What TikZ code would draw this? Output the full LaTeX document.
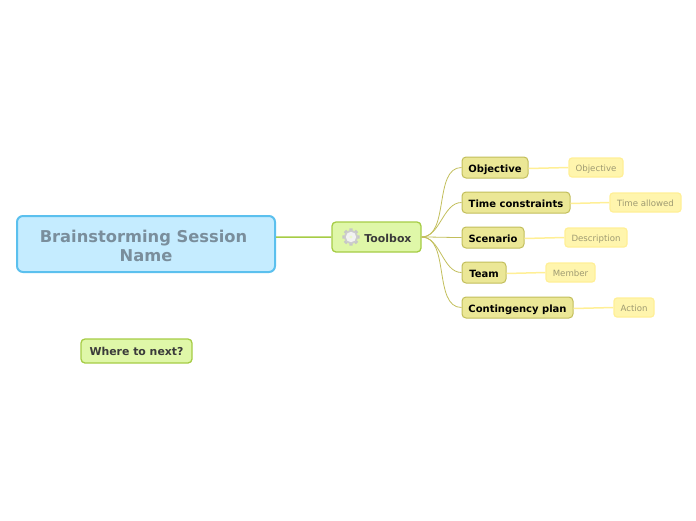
\documentclass[tikz,border=0pt]{standalone}
\usepackage{fontspec}
\setmainfont{DejaVu Sans}
\usepackage{xcolor}
\definecolor{rootfill}{HTML}{C5ECFF}
\definecolor{rootline}{HTML}{5BC0EE}
\definecolor{roottext}{HTML}{7A8E9C}
\definecolor{mainfill}{HTML}{DFF7A8}
\definecolor{mainline}{HTML}{A6CC45}
\definecolor{maintext}{HTML}{3A3A3A}
\definecolor{topicfill}{HTML}{EBE796}
\definecolor{topicline}{HTML}{C2BE5B}
\definecolor{subfill}{HTML}{FFF5AD}
\definecolor{subline}{HTML}{FFEF96}
\definecolor{subtext}{HTML}{9E9A72}
\tikzset{
    rootbox/.style={draw=rootline, fill=rootfill, line width=2pt, rounded corners=6pt, align=center,
        text=roottext, font=\fontsize{16.3}{19}\selectfont\bfseries, inner sep=0pt},
    mainbox/.style={draw=mainline, fill=mainfill, line width=1.3pt, rounded corners=4pt,
        text=maintext, font=\fontsize{10.9}{13}\selectfont\bfseries, inner sep=0pt, text depth=0pt},
    topicbox/.style={draw=topicline, fill=topicfill, line width=1pt, rounded corners=4pt,
        text=black, font=\fontsize{10}{12}\selectfont\bfseries, inner sep=0pt, minimum height=21pt,
        text height=9pt, text depth=0pt},
    subbox/.style={draw=subline, fill=subfill, line width=1.2pt, rounded corners=3pt,
        text=subtext, font=\fontsize{8.6}{10}\selectfont, inner sep=0pt, minimum height=19pt,
        text height=8pt, text depth=0pt},
    mainlink/.style={draw=mainline, line width=1.5pt},
    topiclink/.style={draw=topicline, line width=0.8pt, out=0, in=180, looseness=0.9},
    sublink/.style={draw=subline, line width=1.5pt}
}
\begin{document}
\begin{tikzpicture}[x=1pt, y=-1pt]
    \useasboundingbox (0,0) rectangle (696,520);

    % Central topic
    \node[rootbox, minimum width=258pt, minimum height=56pt] (root) at (146,244) {\rule{0pt}{17pt}Brainstorming Session\hspace*{5pt}\\Name};

    % Main topics
    \node[mainbox, minimum width=89pt, minimum height=30pt, text height=10pt] (toolbox) at (376.5,237) {\hspace*{23pt}Toolbox};
    \node[mainbox, minimum width=111pt, minimum height=24pt, text height=8pt] (next) at (136.5,351) {Where to next?};

    % Toolbox children
    \node[topicbox, minimum width=66pt] (objective) at (495,167.5) {Objective};
    \node[topicbox, minimum width=108pt] (time) at (516,202.5) {Time constraints};
    \node[topicbox, minimum width=62pt] (scenario) at (493,237.5) {Scenario};
    \node[topicbox, minimum width=44pt] (team) at (484,272.5) {Team};
    \node[topicbox, minimum width=111pt] (plan) at (517.5,307.5) {Contingency plan};

    % Details
    \node[subbox, minimum width=54pt] (objectivesub) at (596,167.5) {Objective};
    \node[subbox, minimum width=71pt] (timesub) at (645.5,202.5) {Time allowed};
    \node[subbox, minimum width=62pt] (scenariosub) at (596,237.5) {Description};
    \node[subbox, minimum width=49pt] (teamsub) at (570.5,272.5) {Member};
    \node[subbox, minimum width=40pt] (plansub) at (634,307.5) {Action};

    % Gear
    \begin{scope}[shift={(351,237)}]
        \foreach \a in {0,45,...,315}
            \fill[black!22] (\a-15:6) -- (\a-11:8.8) -- (\a+11:8.8) -- (\a+15:6) -- cycle;
        \fill[black!20] (0,0) circle (6.8);
        \fill[white!95!black] (0,0) circle (5.2);
        \fill[mainfill!60!white] (0,0) circle (1.6);
    \end{scope}

    % Links
    \draw[mainlink] (root.3) -- (toolbox.west);
    \foreach \t in {objective,time,scenario,team,plan}
        \draw[topiclink] (toolbox.east) to (\t.west);
    \foreach \t in {objective,time,scenario,team,plan}
        \draw[sublink] ([yshift=-1pt]\t.east) -- (\t sub.west);
\end{tikzpicture}
\end{document}
